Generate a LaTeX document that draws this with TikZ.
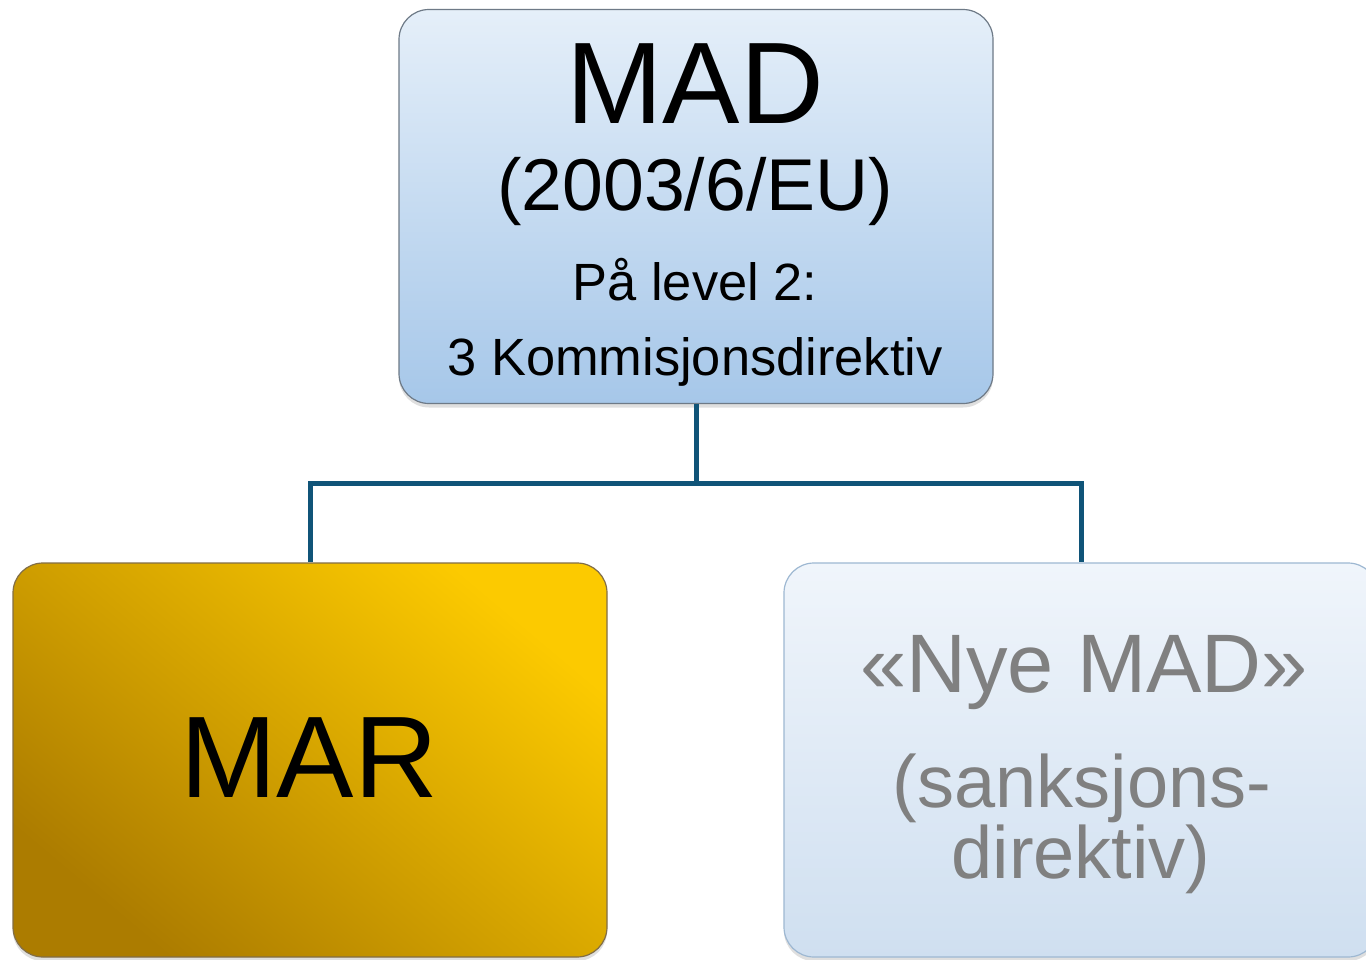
\documentclass[tikz,border=0pt]{standalone}
\usepackage{fontspec}
\setmainfont{Liberation Sans}
\usetikzlibrary{shadows}
\definecolor{linecol}{RGB}{16,84,120}
\definecolor{madtop}{RGB}{229,239,249}
\definecolor{madbot}{RGB}{166,199,233}
\definecolor{madedge}{RGB}{110,122,135}
\definecolor{marbright}{RGB}{252,202,0}
\definecolor{mardark}{RGB}{172,124,0}
\definecolor{maredge}{RGB}{130,110,70}
\definecolor{nyetop}{RGB}{240,245,251}
\definecolor{nyebot}{RGB}{207,223,240}
\definecolor{nyeedge}{RGB}{158,184,210}
\definecolor{nyetext}{RGB}{128,128,128}
\begin{document}
\begin{tikzpicture}[x=0.5pt,y=-0.5pt,
  box/.style={rounded corners=15pt, minimum width=297pt, minimum height=197pt,
    inner sep=0pt, line width=0.6pt,
    drop shadow={opacity=0.25, shadow xshift=0pt, shadow yshift=-2pt}},
  madbox/.style={box, draw=madedge, top color=madtop, bottom color=madbot},
  marbox/.style={box, draw=maredge, shading=axis, top color=marbright, bottom color=mardark, shading angle=-40},
  nyebox/.style={box, draw=nyeedge, top color=nyetop, bottom color=nyebot},
  conn/.style={draw=linecol, line width=2.5pt, line join=miter},
  txt/.style={anchor=base, inner sep=0pt},
  fbig/.style={font=\fontsize{58}{60}\selectfont},
  fmid/.style={font=\fontsize{36.7}{40}\selectfont},
  fsmall/.style={font=\fontsize{26.2}{30}\selectfont},
  fnye/.style={font=\fontsize{41.5}{44}\selectfont},
  fsank/.style={font=\fontsize{37}{40}\selectfont}]
\clip (0,0) rectangle (1366,959);
\fill[white] (0,0) rectangle (1366,959);

% boxes
\node[madbox] (mad) at (696,206.5) {};
\node[marbox] (mar) at (310,760) {};
\node[nyebox] (nye) at (1081,760) {};

% connectors
\coordinate (j) at (mad.south |- 0,483);
\draw[conn] (mad.south) -- (j);
\draw[conn] (j) -| (mar.north);
\draw[conn] (j) -| (nye.north);

% texts
\node[txt, fbig] (madT) at (695,123) {MAD};
\node[txt, fmid] (madY) at (695,210) {(2003/6/EU)};
\node[txt, fsmall] (madL) at (695,300) {På level 2:};
\node[txt, fsmall] (madK) at (695,375) {3 Kommisjonsdirektiv};

\node[txt, fbig] (marT) at (309,797) {MAR};

\node[txt, fnye, text=nyetext] (nyeT) at (1084,692) {«Nye MAD»};
\node[txt, fsank, text=nyetext] (nyeS) at (1082,807) {(sanksjons-};
\node[txt, fsank, text=nyetext] (nyeD) at (1081,878) {direktiv)};
\end{tikzpicture}
\end{document}
